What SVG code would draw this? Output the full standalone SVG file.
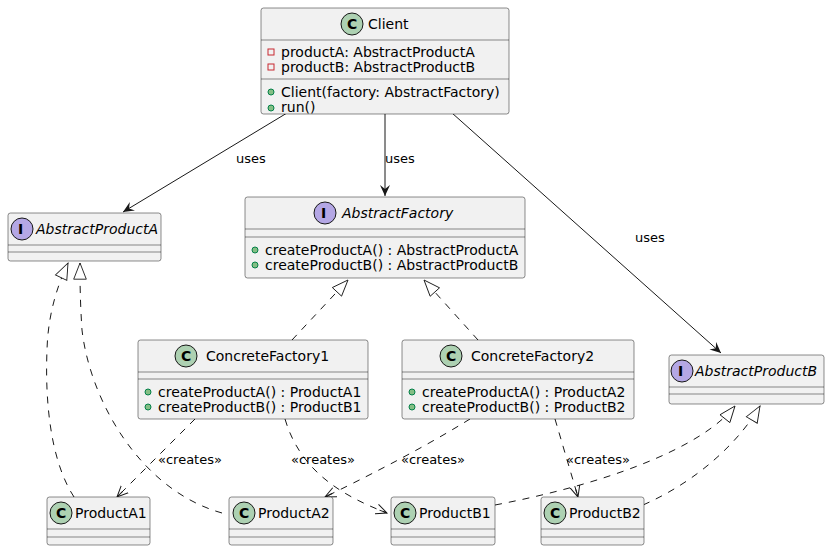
<svg xmlns="http://www.w3.org/2000/svg" width="830" height="551" viewBox="0 0 830 551">
<style>
.b{fill:#f1f1f1;stroke:#181818;stroke-width:0.5}
.l{stroke:#181818;stroke-width:0.5}
text{font-family:"DejaVu Sans",sans-serif;font-size:14px;fill:#000}
.i{font-style:italic}
.k{font-weight:bold;font-size:14px}
.c{fill:#add1b2;stroke:#181818;stroke-width:1}
.ic{fill:#b4a7e5;stroke:#181818;stroke-width:1}
.e{fill:none;stroke:#181818;stroke-width:1}
.d{stroke-dasharray:7,7}
.g{fill:#84be84;stroke:#038048;stroke-width:1}
.r{fill:none;stroke:#c82930;stroke-width:1}
.lt{font-size:13px}
</style>
<defs>
<marker id="a" viewBox="0 0 12 12" refX="11" refY="6" markerWidth="12" markerHeight="12" markerUnits="userSpaceOnUse" orient="auto"><path d="M0,1 L11,6 L0,11 L4,6 Z" fill="#181818"/></marker>
<marker id="o" viewBox="0 0 12 12" refX="11" refY="6" markerWidth="12" markerHeight="12" markerUnits="userSpaceOnUse" orient="auto"><path d="M0,1 L11,6 L0,11 M11,6 L3,6" fill="none" stroke="#181818"/></marker>
<marker id="t" viewBox="0 0 20 20" refX="19" refY="10" markerWidth="18" markerHeight="18" markerUnits="userSpaceOnUse" orient="auto"><path d="M1,3 L19,10 L1,17 Z" fill="#fff" stroke="#181818"/></marker>
</defs>
<g id="edges">
<path class="e" d="M287,113 L123,212" marker-end="url(#a)"/>
<text class="lt" x="236" y="163">uses</text>
<path class="e" d="M385,113 L385,196" marker-end="url(#a)"/>
<text class="lt" x="385" y="163">uses</text>
<path class="e" d="M452,113 L721,353" marker-end="url(#a)"/>
<text class="lt" x="635" y="242">uses</text>
<path class="e d" d="M292,340 L348,280" marker-end="url(#t)"/>
<path class="e d" d="M478,340 L424,280" marker-end="url(#t)"/>
<path class="e d" d="M74,497 C50,460 45,400 47,350 C48,310 60,280 68,263" marker-end="url(#t)"/>
<path class="e d" d="M222,513 C140,490 90,400 82,330 C80,300 80,280 80,263" marker-end="url(#t)"/>
<path class="e d" d="M195,419 L117,497" marker-end="url(#o)"/>
<text class="lt" x="158" y="464">«creates»</text>
<path class="e d" d="M285,419 C300,470 340,495 387,513" marker-end="url(#o)"/>
<text class="lt" x="291" y="464">«creates»</text>
<path class="e d" d="M470,419 C420,450 360,480 325,497" marker-end="url(#o)"/>
<text class="lt" x="401" y="464">«creates»</text>
<path class="e d" d="M555,419 L578,497" marker-end="url(#o)"/>
<text class="lt" x="566" y="464">«creates»</text>
<path class="e d" d="M495,505 C600,485 700,450 735,406" marker-end="url(#t)"/>
<path class="e d" d="M643,505 C700,480 740,440 760,406" marker-end="url(#t)"/>
</g>
<g id="Client">
<rect class="b" x="261" y="8" width="248" height="106" rx="2.5"/>
<circle class="c" cx="352" cy="24" r="11"/><text class="k" x="347" y="29">C</text>
<text x="368" y="29">Client</text>
<line class="l" x1="261" y1="40" x2="509" y2="40"/>
<rect class="r" x="268" y="49" width="6" height="6"/><text x="281" y="57">productA: AbstractProductA</text>
<rect class="r" x="268" y="64" width="6" height="6"/><text x="281" y="72">productB: AbstractProductB</text>
<line class="l" x1="261" y1="79" x2="509" y2="79"/>
<circle class="g" cx="271" cy="92" r="3"/><text x="281" y="97">Client(factory: AbstractFactory)</text>
<circle class="g" cx="271" cy="108" r="3"/><text x="281" y="112">run()</text>
</g>
<g id="AbstractProductA">
<rect class="b" x="8" y="213" width="153" height="48" rx="2.5"/>
<circle class="ic" cx="22" cy="229" r="11"/><text class="k" x="18" y="234">I</text>
<text class="i" x="36" y="234">AbstractProductA</text>
<line class="l" x1="8" y1="245" x2="161" y2="245"/><line class="l" x1="8" y1="252" x2="161" y2="252"/>
</g>
<g id="AbstractFactory">
<rect class="b" x="245" y="197" width="280" height="81" rx="2.5"/>
<circle class="ic" cx="325" cy="213" r="11"/><text class="k" x="321" y="218">I</text>
<text class="i" x="342" y="218">AbstractFactory</text>
<line class="l" x1="245" y1="229" x2="525" y2="229"/><line class="l" x1="245" y1="237" x2="525" y2="237"/>
<circle class="g" cx="255" cy="250" r="3"/><text x="265" y="255">createProductA() : AbstractProductA</text>
<circle class="g" cx="255" cy="265" r="3"/><text x="265" y="270">createProductB() : AbstractProductB</text>
</g>
<g id="ConcreteFactory1">
<rect class="b" x="138" y="340" width="230" height="79" rx="2.5"/>
<circle class="c" cx="186" cy="356" r="11"/><text class="k" x="181" y="361">C</text>
<text x="206" y="361">ConcreteFactory1</text>
<line class="l" x1="138" y1="372" x2="368" y2="372"/><line class="l" x1="138" y1="379" x2="368" y2="379"/>
<circle class="g" cx="148" cy="392" r="3"/><text x="158" y="397">createProductA() : ProductA1</text>
<circle class="g" cx="148" cy="407" r="3"/><text x="158" y="412">createProductB() : ProductB1</text>
</g>
<g id="ConcreteFactory2">
<rect class="b" x="402" y="340" width="232" height="79" rx="2.5"/>
<circle class="c" cx="451" cy="356" r="11"/><text class="k" x="446" y="361">C</text>
<text x="471" y="361">ConcreteFactory2</text>
<line class="l" x1="402" y1="372" x2="634" y2="372"/><line class="l" x1="402" y1="379" x2="634" y2="379"/>
<circle class="g" cx="412" cy="392" r="3"/><text x="422" y="397">createProductA() : ProductA2</text>
<circle class="g" cx="412" cy="407" r="3"/><text x="422" y="412">createProductB() : ProductB2</text>
</g>
<g id="AbstractProductB">
<rect class="b" x="669" y="355" width="155" height="49" rx="2.5"/>
<circle class="ic" cx="682" cy="371" r="11"/><text class="k" x="678" y="376">I</text>
<text class="i" x="695" y="376">AbstractProductB</text>
<line class="l" x1="669" y1="387" x2="824" y2="387"/><line class="l" x1="669" y1="394" x2="824" y2="394"/>
</g>
<g id="ProductA1">
<rect class="b" x="47" y="497" width="103" height="48" rx="2.5"/>
<circle class="c" cx="61" cy="513" r="11"/><text class="k" x="56" y="518">C</text>
<text x="75" y="518">ProductA1</text>
<line class="l" x1="47" y1="529" x2="150" y2="529"/><line class="l" x1="47" y1="537" x2="150" y2="537"/>
</g>
<g id="ProductA2">
<rect class="b" x="229" y="497" width="104" height="48" rx="2.5"/>
<circle class="c" cx="244" cy="513" r="11"/><text class="k" x="239" y="518">C</text>
<text x="258" y="518">ProductA2</text>
<line class="l" x1="229" y1="529" x2="333" y2="529"/><line class="l" x1="229" y1="537" x2="333" y2="537"/>
</g>
<g id="ProductB1">
<rect class="b" x="391" y="497" width="104" height="48" rx="2.5"/>
<circle class="c" cx="405" cy="513" r="11"/><text class="k" x="400" y="518">C</text>
<text x="419" y="518">ProductB1</text>
<line class="l" x1="391" y1="529" x2="495" y2="529"/><line class="l" x1="391" y1="537" x2="495" y2="537"/>
</g>
<g id="ProductB2">
<rect class="b" x="541" y="497" width="103" height="48" rx="2.5"/>
<circle class="c" cx="555" cy="513" r="11"/><text class="k" x="550" y="518">C</text>
<text x="569" y="518">ProductB2</text>
<line class="l" x1="541" y1="529" x2="644" y2="529"/><line class="l" x1="541" y1="537" x2="644" y2="537"/>
</g>
</svg>
